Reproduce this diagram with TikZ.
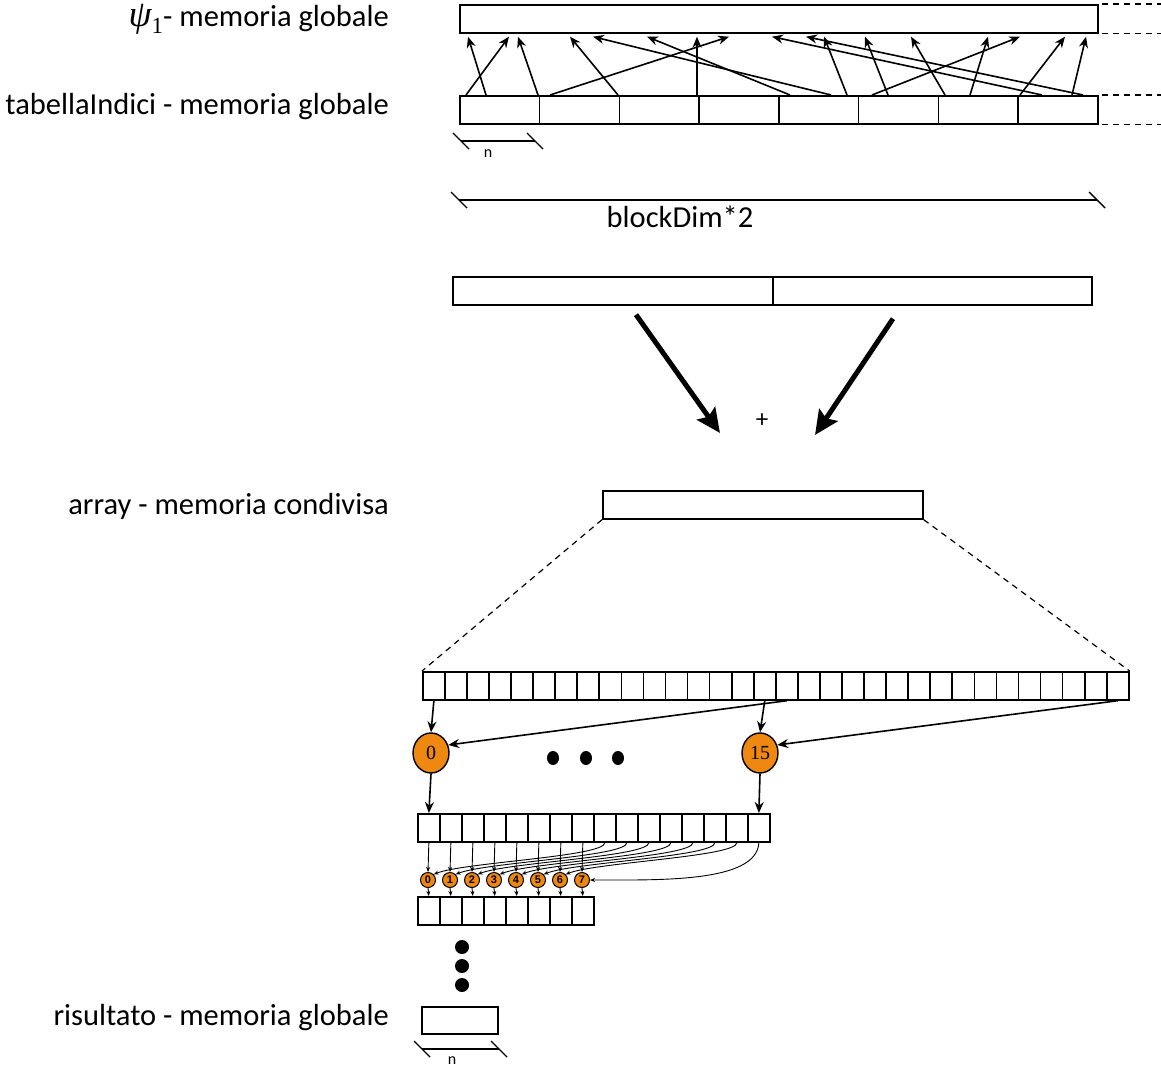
\documentclass[tikz,border=0pt]{standalone}
\usepackage{fontspec}
\setmainfont{Carlito}
\newfontfamily\zifferfont{Liberation Serif}
\newfontfamily\kleinfont{Liberation Sans}
\usepackage{tikz}
\usetikzlibrary{positioning, calc, arrows.meta, shapes.geometric}
\definecolor{arancio}{HTML}{EE8811}
\newcommand{\psiuno}{{\zifferfont\itshape\fontsize{37}{40}\selectfont ψ}\raisebox{-0.22em}{\zifferfont\fontsize{23}{25}\selectfont 1}}

\tikzset{
  cella/.style={draw, line width=1.7pt, minimum width=#1, minimum height=28pt,
    inner sep=0pt, anchor=north west},
  cella/.default=22pt,
  freccia/.style={line width=1.6pt, -{Stealth[length=11pt,width=9pt]}},
  frecciona/.style={line width=5pt, -{Stealth[length=24pt,width=22pt,inset=4pt]}},
  freccina/.style={line width=0.9pt, -{Stealth[length=5pt,width=4pt]}},
  tratteggio/.style={line width=1.2pt, dash pattern=on 6pt off 5pt},
  quota/.style={line width=1.4pt},
  etichetta/.style={anchor=base east, inner sep=0pt, font=\fontsize{30.5}{34}\selectfont},
  thread/.style={ellipse, draw, line width=1.4pt, fill=arancio, minimum width=36pt,
    minimum height=40pt, inner sep=0pt, font=\zifferfont\fontsize{20}{22}\selectfont},
  threadino/.style={circle, draw, line width=1pt, fill=arancio, minimum size=15pt,
    inner sep=0pt, font=\kleinfont\bfseries\fontsize{11}{12}\selectfont},
}

\begin{document}
\begin{tikzpicture}[x=1pt, y=-1pt]
\useasboundingbox (0,0) rectangle (1161,1067);

% psi_1 - memoria globale
\node[cella=638pt] (psi) at (459,4) {};
\node[etichetta] (lpsi) at (389,27) {\psiuno- memoria globale};

% tabellaIndici - memoria globale
\foreach \i in {0,...,7}
  \node[cella=79.75pt] (t\i) at ({459+79.75*\i},95) {};
\node[etichetta] (ltab) at (389,115) {tabellaIndici - memoria globale};

% continuation of the two arrays
\foreach \r in {psi.north east, psi.south east, t7.north east, t7.south east}
  \draw[tratteggio] ([xshift=3pt]\r) -- ++(64,0);

% indices -> psi_1
\foreach \a/\b in {7/50, 27/9, 79/59, 91/270, 159/111, 238/238, 331/188, 372/134,
    388/365, 413/561, 429/406, 486/452, 511/529, 561/606, 583/313, 613/627, 624/347}
  \draw[freccia] ([xshift=\a pt]t0.north west) -- ([xshift=\b pt, yshift=-3pt]psi.south west);

% dimension n
\coordinate (na) at (461,141);
\coordinate (nb) at (535,141);
\draw[quota] (na) -- (nb);
\draw[quota] ($(na)+(-8,-8)$) -- ($(na)+(8,8)$);
\draw[quota] ($(nb)+(-8,-8)$) -- ($(nb)+(8,8)$);
\node[anchor=base, inner sep=0pt, font=\fontsize{16}{17}\selectfont] (ln) at (488,158) {n};

% dimension blockDim*2
\coordinate (ba) at (459,200);
\coordinate (bb) at (1097,200);
\draw[quota] (ba) -- (bb);
\draw[quota] ($(ba)+(-8,-8)$) -- ($(ba)+(8,8)$);
\draw[quota] ($(bb)+(-8,-8)$) -- ($(bb)+(8,8)$);
\node[anchor=base, inner sep=0pt, font=\fontsize{30.5}{34}\selectfont] (lblock) at (680,228) {blockDim*2};

% the two halves and their sum
\node[cella=320pt] (h1) at (452,276) {};
\node[cella=319pt] (h2) at (772,276) {};
\node[inner sep=0pt, font=\fontsize{25}{27}\selectfont] (piu) at (762,421) {+};
\draw[frecciona] ([xshift=184pt, yshift=-9pt]h1.south west) -- ([xshift=-42pt, yshift=-12pt]piu.center);
\draw[frecciona] ([xshift=121pt, yshift=-13pt]h2.south west) -- ([xshift=53pt, yshift=-14pt]piu.center);

% array - memoria condivisa
\node[cella=320pt] (arr) at (602,490) {};
\node[etichetta] (larr) at (389,514) {array - memoria condivisa};
\foreach \i in {0,...,31}
  \node[cella=22.06pt] (a\i) at ({422+22.06*\i},671) {};
\draw[tratteggio] (arr.south west) -- (a0.north west);
\draw[tratteggio] (arr.south east) -- (a31.north east);

% threads 0 ... 15
\node[thread] (p0) at (431,753) {0};
\node[thread] (p15) at (760,753) {15};
\foreach \x in {553,586,618}
  \fill (\x,758) ellipse [x radius=6pt, y radius=7pt];
\draw[freccia] (a0.south) -- (p0.north);
\draw[freccia] (a15.south) -- (p15.north);
\draw[freccia] (a16.south) -- (p0.25);
\draw[freccia] (a31.south) -- (p15.25);

% second step
\foreach \i in {0,...,15}
  \node[cella=22pt] (b\i) at ({417+22*\i},813) {};
\draw[freccia] (p0.south) -- (b0.north);
\draw[freccia] (p15.south) -- (b15.north);
\foreach \i in {0,...,7}
  \node[threadino] (s\i) at ({428+22*\i},880) {\i};
\foreach \i in {0,...,7}
  \node[cella=22pt] (c\i) at ({417+22*\i},896) {};
\foreach \i in {0,...,7} {
  \draw[freccina] (b\i.south) -- (s\i.north);
  \draw[freccina] (s\i.south) -- (c\i.north);
}
\foreach \i in {0,...,6} {
  \pgfmathtruncatemacro\j{\i+8}
  \draw[freccina] (b\j.south) .. controls +(0,14) and +(30,-12) .. (s\i.north east);
}
\draw[freccina] (b15.south) .. controls +(-2,40) and +(70,0) .. (s7.east);

% risultato - memoria globale
\foreach \y in {947,966,985}
  \fill (462,\y) circle [radius=7pt];
\node[cella=76pt, minimum height=27pt] (ris) at (421,1006) {};
\node[etichetta] (lris) at (389,1025) {risultato - memoria globale};
\coordinate (ra) at (422,1049);
\coordinate (rb) at (499,1049);
\draw[quota] (ra) -- (rb);
\draw[quota] ($(ra)+(-8,-8)$) -- ($(ra)+(8,8)$);
\draw[quota] ($(rb)+(-8,-8)$) -- ($(rb)+(8,8)$);
\node[anchor=base, inner sep=0pt, font=\fontsize{16}{17}\selectfont] (lrn) at (452,1064) {n};
\end{tikzpicture}
\end{document}
